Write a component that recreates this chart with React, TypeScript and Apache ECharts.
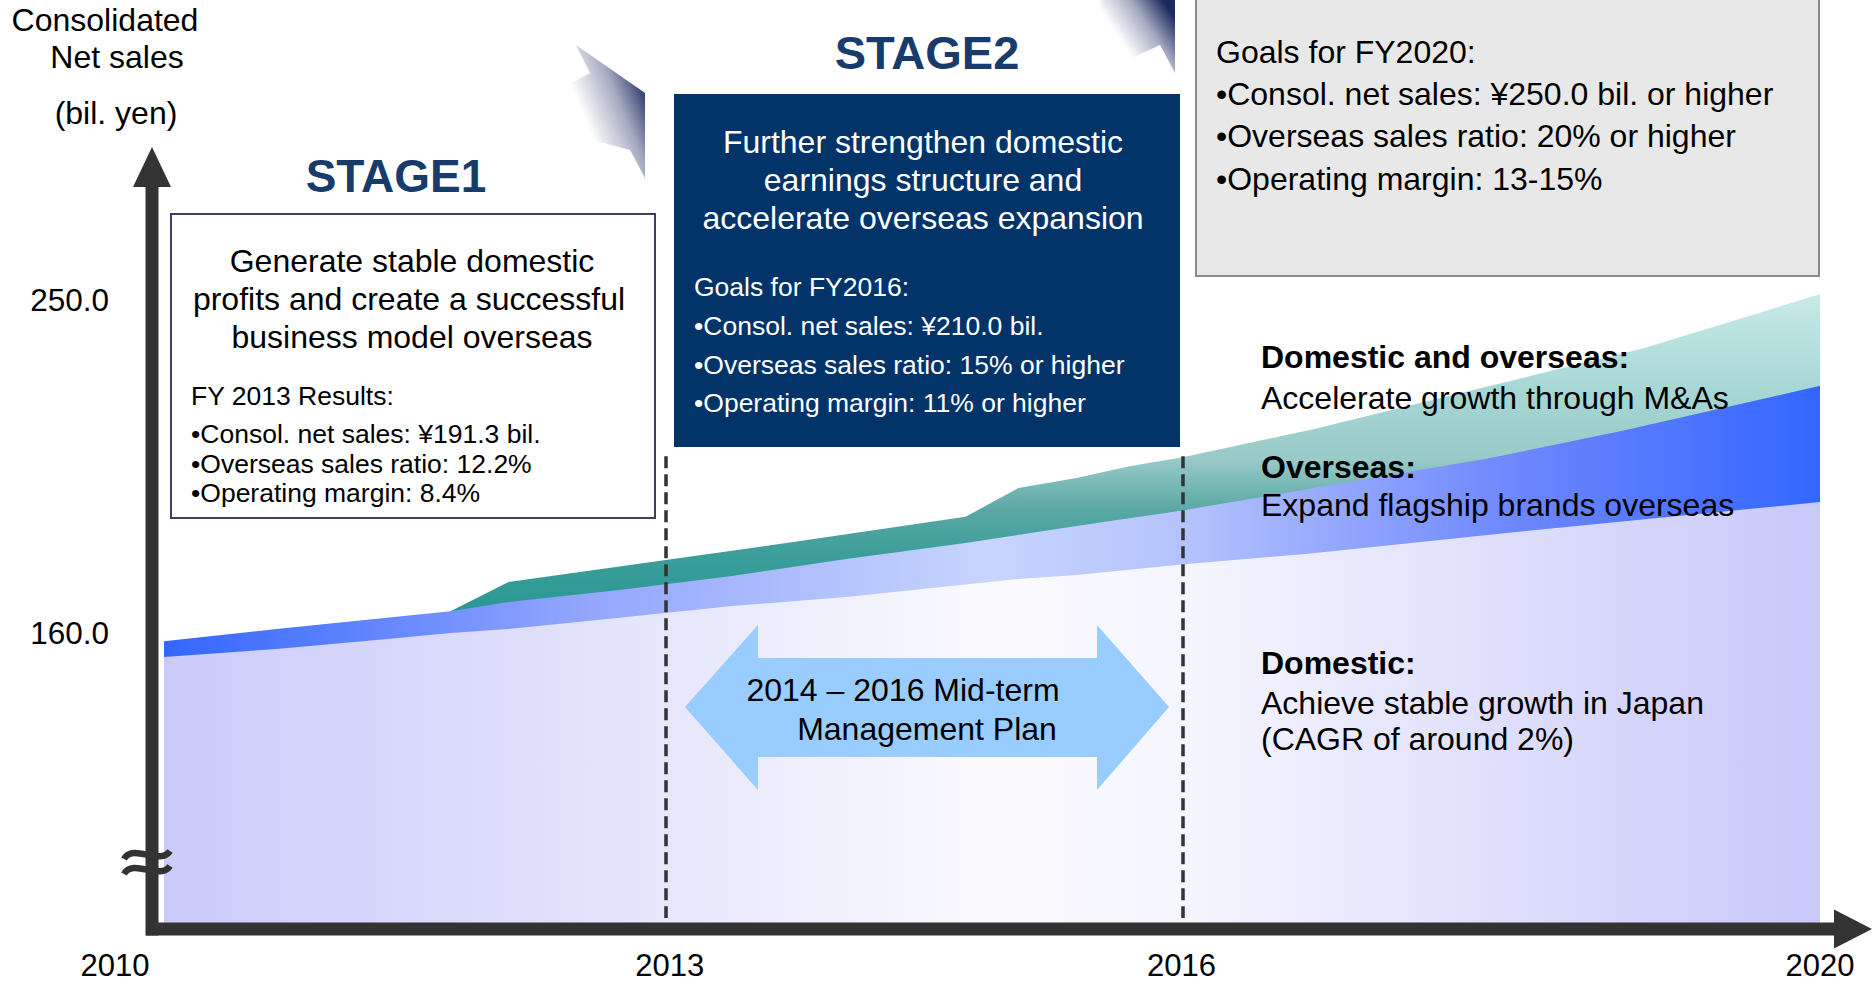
import React, { useEffect, useRef } from 'react';
import * as echarts from 'echarts';

// ---------- data ----------
const tickYears = [2010, 2013, 2016, 2020];
const yTickValues = [160, 250];
const planBoundaryYears = [2013.03, 2016.15];

const domesticYears = [2010.0, 2010.68, 2011.35, 2011.73, 2012.08, 2012.75, 2013.43, 2014.12, 2015.16, 2015.51, 2016.16, 2016.91, 2018.27, 2020.0];
const domesticSales = [153.5, 155.7, 158.4, 160.0, 161.1, 164.1, 167.3, 169.7, 174.6, 175.7, 178.6, 181.4, 187.8, 195.4];

const overseasYears = [2010.0, 2010.68, 2011.73, 2012.08, 2012.75, 2013.43, 2014.12, 2014.84, 2015.51, 2016.16, 2016.91, 2018.01, 2018.8, 2020.0];
const domesticPlusOverseas = [157.8, 161.1, 165.9, 168.4, 171.6, 175.4, 180.0, 184.3, 188.9, 193.2, 198.9, 207.3, 214.6, 226.8];

const maYears = [2011.73, 2012.08, 2013.03, 2013.8, 2014.84, 2015.16, 2015.51, 2015.83, 2016.16, 2016.94, 2018.01, 2018.94, 2020.0];
const totalWithMA = [165.9, 173.8, 179.7, 184.6, 191.4, 199.2, 201.9, 205.1, 207.6, 215.1, 226.8, 237.0, 251.6];

// ---------- styling helpers ----------
const FONT = '"Liberation Sans", Arial, Helvetica, sans-serif';
const NAVY = '#173c6b';
const AXIS = '#333333';

function txt(text: string, x: number, y: number, size: number, opts: any = {}) {
  return {
    type: 'text',
    x,
    y,
    z: 100,
    silent: true,
    style: {
      text,
      fontSize: size,
      fontFamily: FONT,
      fontWeight: opts.bold ? 'bold' : 'normal',
      fill: opts.color || '#000',
      textAlign: opts.align || 'left',
      textVerticalAlign: 'middle',
    },
  };
}

function pairs(xs: number[], ys: number[]) {
  return xs.map((x, i) => [x, ys[i]]);
}

const decoGradient = {
  type: 'linear',
  x: 0,
  y: 0.9,
  x2: 1,
  y2: 0.25,
  colorStops: [
    { offset: 0, color: 'rgba(255,255,255,0)' },
    { offset: 0.35, color: 'rgba(255,255,255,1)' },
    { offset: 0.7, color: '#a4a9c0' },
    { offset: 1, color: '#1c2a60' },
  ],
};

const xLabelBase = { fontSize: 31, fontFamily: FONT, color: '#000', lineHeight: 30 };

export default function App() {
  const ref = useRef<HTMLDivElement>(null);

  useEffect(() => {
    document.body.style.margin = '0';
    const chart = echarts.init(ref.current as HTMLDivElement, undefined, { renderer: 'svg' });

    const graphics: any[] = [
      // axis title
      txt('Consolidated', 105, 20, 32, { align: 'center' }),
      txt('Net sales', 117, 57, 32, { align: 'center' }),
      txt('(bil. yen)', 116, 113, 32, { align: 'center' }),

      // decorative arrow heads
      {
        type: 'polygon', z: 50, silent: true,
        shape: { points: [[576, 45], [645, 93], [645, 178], [630, 150], [592, 140], [562, 88], [590, 73]] },
        style: { fill: decoGradient },
      },
      {
        type: 'polygon', z: 50, silent: true,
        shape: { points: [[1100, 0], [1175, 0], [1175, 73], [1160, 45], [1128, 60], [1104, 30]] },
        style: { fill: decoGradient },
      },

      // axes (thick arrows)
      { type: 'line', z: 90, silent: true, shape: { x1: 152, y1: 186, x2: 152, y2: 935.5 }, style: { stroke: AXIS, lineWidth: 13 } },
      { type: 'polygon', z: 90, silent: true, shape: { points: [[133, 187], [171, 187], [152, 147]] }, style: { fill: AXIS } },
      { type: 'line', z: 90, silent: true, shape: { x1: 146, y1: 929, x2: 1835, y2: 929 }, style: { stroke: AXIS, lineWidth: 13 } },
      { type: 'polygon', z: 90, silent: true, shape: { points: [[1834, 909.5], [1834, 948.5], [1872, 929]] }, style: { fill: AXIS } },

      // axis break mark
      {
        type: 'bezierCurve', z: 92, silent: true,
        shape: { x1: 124, y1: 859, cpx1: 133, cpy1: 843, cpx2: 160, cpy2: 866, x2: 170, y2: 851 },
        style: { stroke: AXIS, lineWidth: 6.5, fill: null },
      },
      {
        type: 'bezierCurve', z: 92, silent: true,
        shape: { x1: 124, y1: 874, cpx1: 133, cpy1: 858, cpx2: 160, cpy2: 881, x2: 170, y2: 866 },
        style: { stroke: AXIS, lineWidth: 6.5, fill: null },
      },

      // STAGE1
      txt('STAGE1', 396, 176, 46, { bold: true, color: NAVY, align: 'center' }),
      {
        type: 'rect', z: 95, silent: true,
        shape: { x: 171, y: 214, width: 484, height: 304 },
        style: { fill: '#ffffff', stroke: '#3d3d66', lineWidth: 2 },
      },
      txt('Generate stable domestic', 412, 261, 32, { align: 'center' }),
      txt('profits and create a successful', 409, 299, 32, { align: 'center' }),
      txt('business model overseas', 412, 337, 32, { align: 'center' }),
      txt('FY 2013 Results:', 191, 396, 26.5),
      txt('•Consol. net sales: ¥191.3 bil.', 191, 434, 26.5),
      txt('•Overseas sales ratio: 12.2%', 191, 464, 26.5),
      txt('•Operating margin: 8.4%', 191, 493, 26.5),

      // STAGE2
      txt('STAGE2', 927, 52, 47, { bold: true, color: NAVY, align: 'center' }),
      {
        type: 'rect', z: 95, silent: true,
        shape: { x: 674, y: 94, width: 506, height: 353 },
        style: { fill: '#02346a' },
      },
      txt('Further strengthen domestic', 923, 142, 32, { align: 'center', color: '#fff' }),
      txt('earnings structure and', 923, 180, 32, { align: 'center', color: '#fff' }),
      txt('accelerate overseas expansion', 923, 218, 32, { align: 'center', color: '#fff' }),
      txt('Goals for FY2016:', 694, 287, 26.5, { color: '#fff' }),
      txt('•Consol. net sales: ¥210.0 bil.', 694, 326, 26.5, { color: '#fff' }),
      txt('•Overseas sales ratio: 15% or higher', 694, 365, 26.5, { color: '#fff' }),
      txt('•Operating margin: 11% or higher', 694, 403, 26.5, { color: '#fff' }),

      // FY2020 goals box
      {
        type: 'rect', z: 95, silent: true,
        shape: { x: 1196, y: -3, width: 623, height: 279 },
        style: { fill: '#e8e8e8', stroke: '#8a8a8a', lineWidth: 2 },
      },
      txt('Goals for FY2020:', 1216, 52, 32),
      txt('•Consol. net sales: ¥250.0 bil. or higher', 1216, 94, 32),
      txt('•Overseas sales ratio: 20% or higher', 1216, 136, 32),
      txt('•Operating margin: 13-15%', 1216, 179, 32),

      // mid-term plan double arrow
      {
        type: 'polygon', z: 95, silent: true,
        shape: {
          points: [
            [685, 707], [758, 625], [758, 658], [1097, 658], [1097, 625],
            [1169, 707], [1097, 790], [1097, 757], [758, 757], [758, 790],
          ],
        },
        style: { fill: '#99ccff' },
      },
      txt('2014 – 2016 Mid-term', 903, 690, 32, { align: 'center' }),
      txt('Management Plan', 927, 729, 32, { align: 'center' }),

      // right-hand annotations
      txt('Domestic and overseas:', 1261, 357, 32, { bold: true }),
      txt('Accelerate growth through M&As', 1261, 398, 32),
      txt('Overseas:', 1261, 467, 32, { bold: true }),
      txt('Expand flagship brands overseas', 1261, 505, 32),
      txt('Domestic:', 1261, 663, 32, { bold: true }),
      txt('Achieve stable growth in Japan', 1261, 703, 32),
      txt('(CAGR of around 2%)', 1261, 739, 32),
    ];

    const option: any = {
      animation: false,
      backgroundColor: '#ffffff',
      grid: { left: 164, right: 54, top: 152, bottom: 57, containLabel: false },
      xAxis: {
        type: 'value',
        min: 2010,
        max: 2020,
        interval: 1,
        axisLine: { show: false },
        axisTick: { show: false },
        splitLine: { show: false },
        axisLabel: {
          margin: 21,
          ...xLabelBase,
          formatter: (v: number) => {
            if (!tickYears.includes(v)) return '';
            if (v === tickYears[0]) return '{l|' + v + '}';
            if (v === tickYears[1]) return '{m|' + v + '}';
            if (v === tickYears[2]) return '{r|' + v + '}';
            return '{n|' + v + '}';
          },
          rich: {
            l: { ...xLabelBase, padding: [0, 98, 0, 0] },
            m: { ...xLabelBase, padding: [0, 0, 0, 18] },
            r: { ...xLabelBase, padding: [0, 0, 0, 48] },
            n: { ...xLabelBase },
          },
        },
      },
      yAxis: {
        type: 'value',
        min: 80,
        max: 290,
        interval: 10,
        axisLine: { show: false },
        axisTick: { show: false },
        splitLine: { show: false },
        axisLabel: {
          margin: 55,
          fontSize: 31.5,
          fontFamily: FONT,
          color: '#000',
          formatter: (v: number) => (yTickValues.includes(v) ? v.toFixed(1) : ''),
        },
      },
      series: [
        {
          name: 'Domestic + Overseas + M&A',
          type: 'line',
          data: pairs(maYears, totalWithMA),
          symbol: 'none',
          lineStyle: { width: 0, opacity: 0 },
          areaStyle: {
            opacity: 1,
            color: {
              type: 'linear', x: 0, y: 294, x2: 0, y2: 611, global: true,
              colorStops: [
                { offset: 0, color: '#c8eae8' },
                { offset: 0.29, color: '#a8d8d6' },
                { offset: 0.52, color: '#98cac8' },
                { offset: 0.68, color: '#5aa8a4' },
                { offset: 0.82, color: '#3c9e9a' },
                { offset: 1, color: '#2a9893' },
              ],
            },
          },
          z: 2,
        },
        {
          name: 'Domestic + Overseas',
          type: 'line',
          data: pairs(overseasYears, domesticPlusOverseas),
          symbol: 'none',
          lineStyle: { width: 0, opacity: 0 },
          areaStyle: {
            opacity: 1,
            color: {
              type: 'linear', x: 164, y: 0, x2: 1820, y2: 0, global: true,
              colorStops: [
                { offset: 0, color: '#3366ff' },
                { offset: 0.25, color: '#91a5fd' },
                { offset: 0.5, color: '#c8d5fd' },
                { offset: 0.62, color: '#b3c2fd' },
                { offset: 0.82, color: '#6c86fd' },
                { offset: 1, color: '#3366ff' },
              ],
            },
          },
          z: 3,
        },
        {
          name: 'Domestic',
          type: 'line',
          data: pairs(domesticYears, domesticSales),
          symbol: 'none',
          lineStyle: { width: 0, opacity: 0 },
          areaStyle: {
            opacity: 1,
            color: {
              type: 'linear', x: 164, y: 0, x2: 1820, y2: 0, global: true,
              colorStops: [
                { offset: 0, color: '#cbcbfb' },
                { offset: 0.3, color: '#e6e6fc' },
                { offset: 0.5, color: '#fafafe' },
                { offset: 0.62, color: '#f5f5fe' },
                { offset: 1, color: '#c8c8fa' },
              ],
            },
          },
          markLine: {
            silent: true,
            symbol: ['none', 'none'],
            label: { show: false },
            lineStyle: { color: '#333', width: 3.5, type: [12, 6] },
            data: planBoundaryYears.map((yr) => [
              { coord: [yr, 207.8] },
              { coord: [yr, 83] },
            ]),
          },
          z: 4,
        },
      ],
      graphic: { elements: graphics },
    };

    chart.setOption(option);
    return () => chart.dispose();
  }, []);

  return <div ref={ref} style={{ width: 1874, height: 986, background: '#fff' }} />;
}
